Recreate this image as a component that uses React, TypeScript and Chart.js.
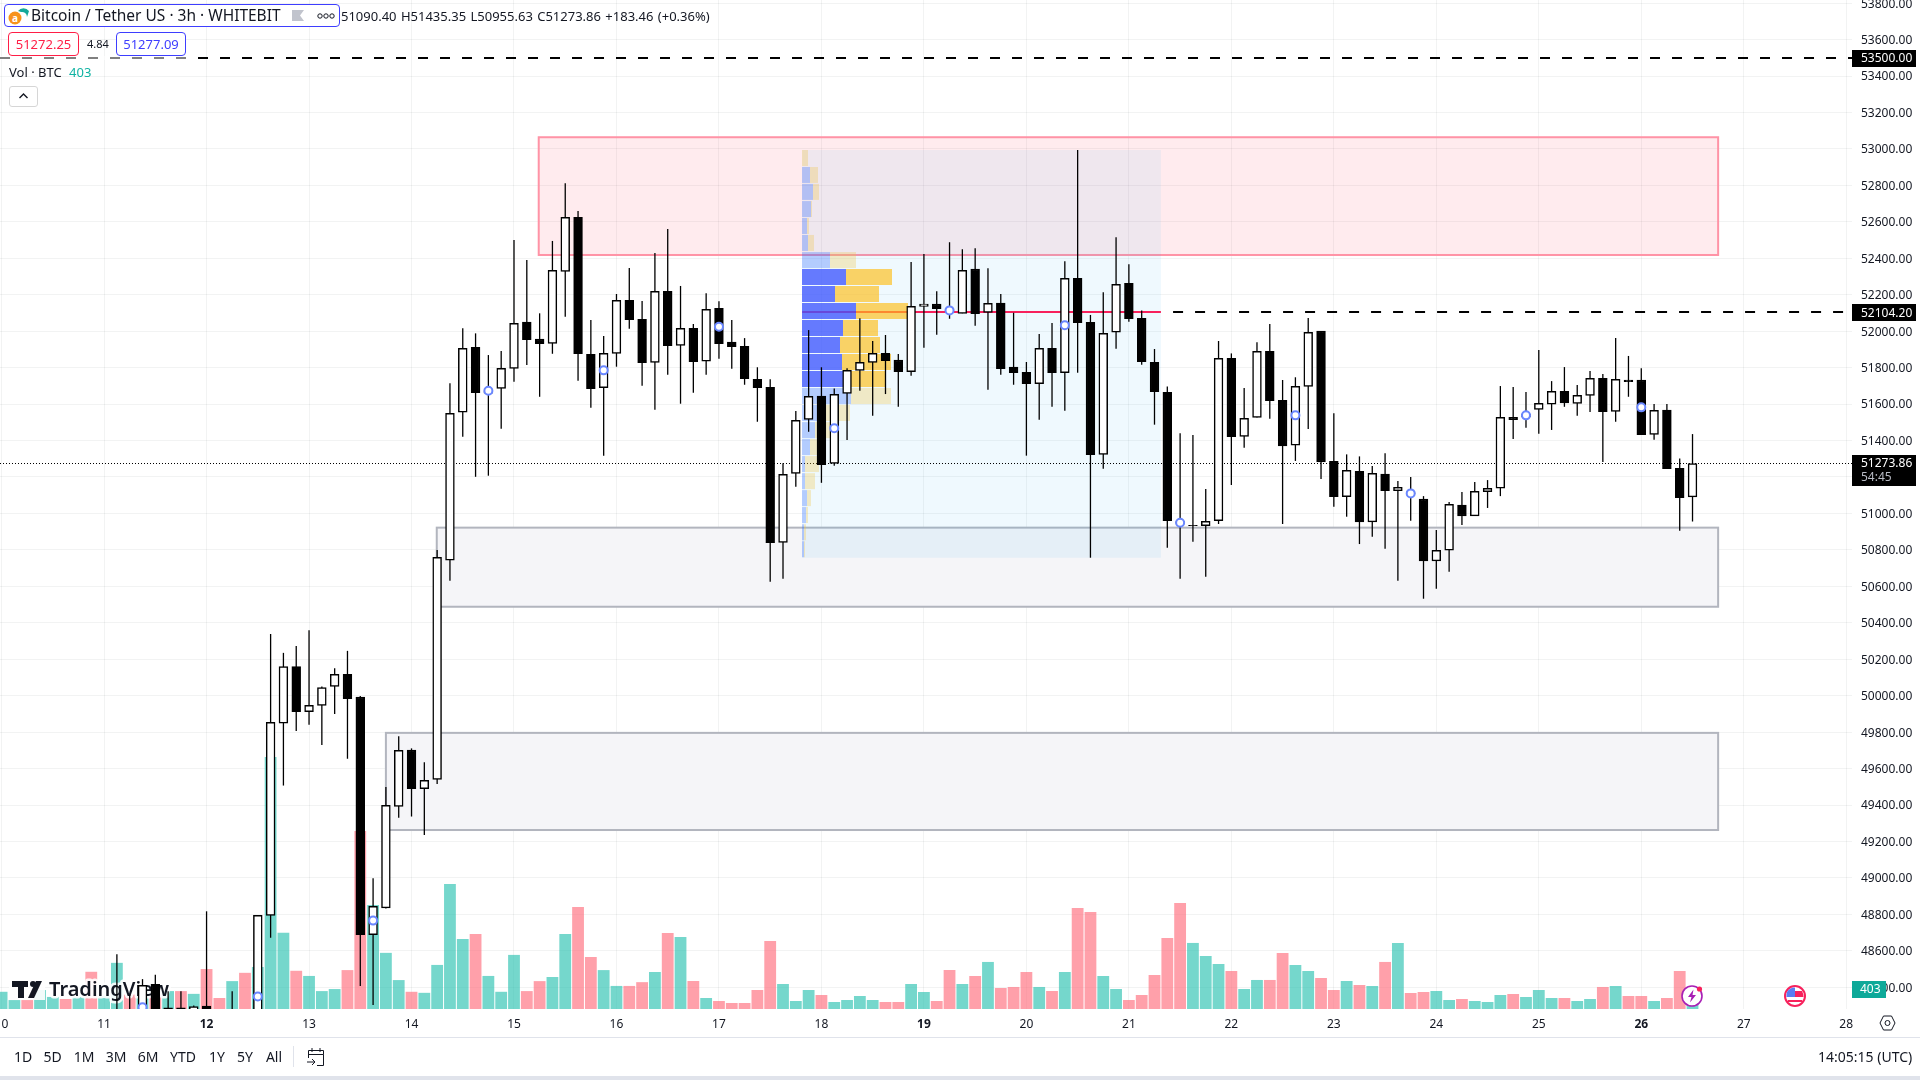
import { useEffect, useRef } from "react"
import { Chart, registerables } from "chart.js"

Chart.register(...registerables)

// 3h candles, one bar per array slot. Bars before index 9 sit below the visible price range.
const opens = [null, null, null, null, null, null, null, null, null,
  48180, 48230, 48180, 48417, 48150, 48288, 48180, 48297, 48150, 48150, 48150, 48200,
  48795, 49849, 50160, 49913, 49947, 50051, 50117, 49993, 48689, 48836, 49392, 49702, 49490, 49541, 50743, 51555,
  51911, 51660, 51686, 51796, 52050, 51957, 51933, 52328, 52625, 51873, 51690, 51878, 52169, 52065, 51829, 52219,
  51922, 52016, 51835, 52125, 51940, 51917, 51736, 51692, 50841, 51220, 51516, 51644, 51275, 51659, 51785, 51829,
  51878, 51842, 51778, 52136, 52149, 52120, 52098, 52341, 52103, 52154, 51803, 51774, 51712, 51906, 51772, 52290,
  52049, 51324, 51994, 52263, 52071, 51829, 51664, 50955, 50935, 50933, 50960, 51851, 51423, 51527, 51889, 51621,
  51374, 51697, 52001, 51286, 51092, 51231, 50954, 51216, 51125, 51115, 51079, 50740, 50798, 51046, 50987, 51119,
  51138, 51527, 51545, 51571, 51599, 51670, 51604, 51648, 51741, 51560, 51732, 51732, 51434, 51567, 51247, 51090.4]
const closes = [null, null, null, null, null, null, null, null, null,
  48230, 48180, 48411, 48150, 48288, 48180, 48294, 48200, 48200, 48200, 48220, 48795,
  49854, 50160, 49913, 49947, 50045, 50117, 49983, 48689, 48844, 49399, 49700, 49490, 49535, 50759, 51549, 51906,
  51662, 51673, 51796, 52043, 51953, 51931, 52334, 52625, 51876, 51684, 51878, 52169, 52063, 51827, 52219, 51920,
  52016, 51832, 52120, 51931, 51915, 51739, 51690, 50839, 51215, 51511, 51643, 51267, 51653, 51785, 51829, 51878,
  51838, 51778, 52136, 52149, 52123, 52105, 52334, 52096, 52153, 51794, 51772, 51712, 51906, 51772, 52290, 52046,
  51322, 51988, 52257, 52068, 51832, 51668, 50960, 50945, 50933, 50957, 51851, 51421, 51522, 51889, 51618, 51371,
  51697, 51994, 51282, 51092, 51236, 50954, 51220, 51125, 51143, 51105, 50740, 50798, 51050, 50986, 51121, 51138,
  51527, 51514, 51530, 51604, 51670, 51607, 51648, 51741, 51558, 51736, 51723, 51432, 51566, 51245, 51086, 51273.86]
const highs = [null, null, null, null, null, null, null, null, null,
  48582, 48357, 48445, 48469, 48379, 48379, 48300, 48817, 48230, 48379, 48250, 48795,
  50338, 50235, 50272, 50359, 50051, 50151, 50246, 49998, 48998, 49499, 49777, 49711, 49635, 50799, 51714, 52016,
  51988, 51869, 51891, 52500, 52390, 52098, 52495, 52811, 52659, 52061, 51973, 52204, 52347, 52165, 52429, 52561,
  52248, 52039, 52208, 52164, 52061, 51962, 51802, 51736, 51275, 51562, 52006, 51802, 51686, 51796, 52071, 51946,
  51979, 51875, 52379, 52423, 52219, 52488, 52449, 52455, 52345, 52204, 52101, 51831, 51984, 52045, 52383, 52994,
  52089, 52213, 52515, 52367, 52114, 51902, 51697, 51440, 51430, 51134, 51946, 51878, 51688, 51939, 52039, 51732,
  51747, 52072, 52001, 51549, 51324, 51313, 51260, 51330, 51178, 51200, 51095, 50909, 51063, 51117, 51172, 51183,
  51699, 51694, 51666, 51897, 51726, 51803, 51705, 51781, 51765, 51962, 51864, 51796, 51600, 51600, 51302, 51435.35]
const lows = [null, null, null, null, null, null, null, null, null,
  48050, 48100, 48120, 48100, 48080, 48120, 48100, 48100, 48050, 48100, 48090, 48150,
  48672, 49507, 49806, 49840, 49730, 49900, 49654, 48407, 48303, 48832, 49331, 49337, 49236, 49516, 50631, 51421,
  51201, 51207, 51465, 51723, 51814, 51640, 51876, 52079, 51728, 51580, 51317, 51805, 52013, 51701, 51569, 51761,
  51602, 51662, 51761, 51849, 51794, 51706, 51503, 50625, 50642, 51147, 51448, 51168, 51262, 51403, 51673, 51536,
  51655, 51585, 51756, 51909, 51981, 52068, 52098, 52030, 51679, 51761, 51706, 51317, 51514, 51585, 51564, 51772,
  50757, 51245, 51904, 52052, 51816, 51487, 50812, 50642, 50845, 50653, 50942, 51156, 51360, 51527, 51520, 50942,
  51288, 51463, 51189, 51037, 50982, 50832, 50872, 50806, 50631, 50960, 50532, 50587, 50680, 50936, 50987, 51030,
  51095, 51408, 51470, 51437, 51458, 51585, 51536, 51556, 51282, 51503, 51640, 51432, 51404, 51245, 50905, 50955.63]

const volumes = [347, 180, 180, 382, 243, 201, 243, 750, 257, 930, 291, 430, 291, 361, 361, 305, 805, 222, 562, 729, 847,
  5080, 1534, 770, 666, 361, 402, 784, 3588, 2096, 1131, 583, 347, 326, 888, 2519, 1409,
  1513, 666, 347, 1090, 361, 562, 645, 1513, 2054, 1048, 784, 465, 465, 541, 746, 1532,
  1452, 564, 222, 161, 121, 121, 383, 1371, 504, 161, 383, 282, 141, 181, 262, 181,
  141, 141, 504, 343, 161, 786, 504, 665, 948, 423, 444, 746, 444, 363, 746, 2036,
  1956, 665, 403, 181, 282, 685, 1431, 2137, 1331, 1068, 907, 766, 403, 585, 585, 1129,
  887, 766, 625, 383, 564, 484, 464, 948, 1331, 323, 343, 363, 181, 202, 161, 141,
  282, 302, 242, 383, 222, 222, 161, 202, 444, 464, 262, 262, 161, 222, 766, 403]
const volumeUp = [1, 1, 0, 1, 1, 0, 1, 0, 1, 1, 0, 1, 0, 1, 0, 1, 0, 0, 1, 0, 1,
  1, 1, 0, 1, 1, 1, 0, 0, 1, 1, 1, 0, 1, 1, 1, 1,
  0, 1, 1, 1, 0, 0, 1, 1, 0, 0, 1, 1, 0, 0, 1, 0,
  1, 0, 1, 0, 0, 0, 0, 0, 1, 1, 1, 0, 1, 1, 1, 1,
  0, 0, 1, 1, 0, 0, 1, 0, 1, 0, 0, 0, 1, 0, 1, 0,
  0, 1, 1, 0, 0, 0, 0, 0, 1, 1, 1, 0, 1, 1, 0, 0,
  1, 1, 0, 0, 1, 0, 1, 0, 1, 0, 0, 1, 1, 0, 1, 1,
  1, 0, 1, 1, 1, 0, 1, 1, 0, 1, 0, 0, 1, 0, 0, 1]

// blue circles sitting on every ninth candle
const markerBars = [11, 20, 29, 38, 47, 56, 65, 74, 83, 92, 101, 110, 119, 128]
const markerPrices = [48290, 48350, 48766, 51673, 51785, 52024, 51467, 52114, 52032, 50949, 51538, 51110, 51538, 51582]

// volume profile rows
const profilePrices = [52950, 52857, 52764, 52670, 52577, 52484, 52390, 52297, 52204, 52111, 52017, 51924,
  51831, 51737, 51644, 51551, 51457, 51364, 51271, 51177, 51084, 50991, 50897, 50804]
const profileDown = [0, 8, 11, 9, 5, 6, 28, 44, 33, 54, 41, 38, 40, 41, 49, 23, 13, 8, 3, 3, 5, 4, 2, 2]
const profileUp = [6, 8, 6, 1, 2, 6, 26, 46, 44, 52, 35, 40, 49, 43, 40, 25, 18, 10, 14, 10, 4, 2, 2, 1]
const profileValueArea = [7, 8, 9, 10, 11, 12, 13]

const dayBars = [0, 8, 16, 24, 32, 40, 48, 56, 64, 72, 80, 88, 96, 104, 112, 120, 128, 136, 144]
const dayLabels = ["10", "11", "12", "13", "14", "15", "16", "17", "18", "19", "20", "21", "22", "23", "24", "25", "26", "27", "28"]
const boldDays = ["12", "19", "26"]
const priceTicks = [48400, 48600, 48800, 49000, 49200, 49400, 49600, 49800, 50000, 50200, 50400, 50600, 50800, 51000,
  51200, 51400, 51600, 51800, 52000, 52200, 52400, 52600, 52800, 53000, 53200, 53400, 53600, 53800]

const lastPrice = 51273.86
const pocPrice = 52104.2
const targetPrice = 53500
const lastVolume = 403
const countdown = "54:45"

const ranges = ["1D", "5D", "1M", "3M", "6M", "YTD", "1Y", "5Y", "All"]
const rangeCenters = [23, 52.6, 84, 116, 148, 183, 217, 245, 274]

const FONT = '"Noto Sans", sans-serif'
const INK = "#131722"

const chartPlugin = {
  id: "tvOverlay",
  beforeDatasetsDraw(chart: any) {
    const { ctx, chartArea, scales } = chart
    const x = scales.x
    const y = scales.y
    ctx.save()
    ctx.beginPath()
    ctx.rect(chartArea.left, chartArea.top, chartArea.width, chartArea.height)
    ctx.clip()

    const zone = (from: number, to: number, top: number, bottom: number, fill: string, stroke: string) => {
      const l = x.getPixelForValue(from)
      const r = x.getPixelForValue(to)
      const t = y.getPixelForValue(top)
      const b = y.getPixelForValue(bottom)
      ctx.fillStyle = fill
      ctx.fillRect(l, t, r - l, b - t)
      if (stroke) {
        ctx.strokeStyle = stroke
        ctx.lineWidth = 2
        ctx.strokeRect(l, t, r - l, b - t)
      }
    }
    zone(41.93, 134, 53064, 52418, "rgba(255,0,40,0.08)", "#ff93a6")
    zone(33.97, 134, 50922, 50488, "#f5f5f8", "#b2b5be")
    zone(30, 134, 49796, 49263, "#f5f5f8", "#b2b5be")
    zone(62.5, 90.5, 52994, 50757, "rgba(33,170,243,0.07)", "")

    const line = (from: number, to: number, price: number, color: string, width: number, dash: number[]) => {
      const py = Math.round(y.getPixelForValue(price))
      ctx.strokeStyle = color
      ctx.lineWidth = width
      ctx.setLineDash(dash)
      ctx.beginPath()
      ctx.moveTo(x.getPixelForValue(from), py)
      ctx.lineTo(x.getPixelForValue(to), py)
      ctx.stroke()
      ctx.setLineDash([])
    }
    line(62.5, 90.5, pocPrice, "#f7215c", 2, [])
    line(91.45, 144, pocPrice, "#000", 2, [10, 12])
    line(-0.125, 144.45, targetPrice, "#000", 2, [10, 12])
    ctx.restore()

    ctx.save()
    ctx.strokeStyle = "#000"
    ctx.lineWidth = 1
    ctx.setLineDash([1, 2])
    const lastY = Math.floor(y.getPixelForValue(lastPrice)) + 0.5
    ctx.beginPath()
    ctx.moveTo(chartArea.left, lastY)
    ctx.lineTo(chartArea.right, lastY)
    ctx.stroke()
    ctx.restore()
  },
  beforeDatasetDraw(chart: any, args: any) {
    // watermark goes above the volume bars and under the candles
    if (args.index !== 2) return
    const { ctx } = chart
    ctx.save()
    ctx.font = `600 20px ${FONT}`
    ctx.textBaseline = "alphabetic"
    ctx.lineJoin = "round"
    ctx.strokeStyle = "rgba(255,255,255,0.9)"
    ctx.lineWidth = 5
    ctx.strokeText("TradingView", 49, 996)
    ctx.fillStyle = "rgba(255,255,255,0.9)"
    ctx.fillRect(9, 978, 36, 22)
    ctx.fillStyle = INK
    ctx.fillText("TradingView", 49, 996)
    ctx.fillRect(12, 981, 16, 6)
    ctx.fillRect(18, 981, 6, 17)
    ctx.beginPath()
    ctx.arc(33, 984, 3, 0, Math.PI * 2)
    ctx.fill()
    ctx.beginPath()
    ctx.moveTo(36, 981)
    ctx.lineTo(42, 981)
    ctx.lineTo(34, 998)
    ctx.lineTo(28, 998)
    ctx.closePath()
    ctx.fill()
    ctx.restore()
  },
  afterDraw(chart: any) {
    const { ctx, scales, chartArea } = chart
    const y = scales.y
    const yVol = scales.yVol
    const left = chartArea.right
    ctx.save()
    ctx.textBaseline = "middle"
    ctx.textAlign = "left"
    ctx.font = `12px ${FONT}`
    const tag = (price: number, text: string) => {
      const py = y.getPixelForValue(price)
      ctx.fillStyle = "#000"
      ctx.fillRect(left, Math.round(py) - 8, 64, 17)
      ctx.fillStyle = "#fff"
      ctx.fillText(text, 1861, py + 1)
    }
    tag(targetPrice, targetPrice.toFixed(2))
    tag(pocPrice, pocPrice.toFixed(2))

    const lastY = y.getPixelForValue(lastPrice)
    ctx.fillStyle = "#000"
    ctx.fillRect(left, Math.floor(lastY) - 8, 64, 31)
    ctx.fillStyle = "#fff"
    ctx.fillText(lastPrice.toFixed(2), 1861, lastY + 0.5)
    ctx.fillStyle = "#b8bbc4"
    ctx.fillText(countdown, 1861, lastY + 14.5)

    const volY = yVol.getPixelForValue(lastVolume)
    ctx.fillStyle = "#0ea999"
    ctx.fillRect(left, Math.round(volY) - 8, 34, 17)
    ctx.fillStyle = "#fff"
    ctx.fillText(String(lastVolume), 1860, volY + 1)
    ctx.restore()
  },
}

const bars = opens.map((_, i) => i).filter((i) => opens[i] !== null)

// scales must not reserve room for labels that hang over the plot edges
const noPadding = (scale: any) => {
  scale.paddingLeft = 0
  scale.paddingRight = 0
  scale.paddingTop = 0
  scale.paddingBottom = 0
}

function Abs({ x, y, style, children }: any) {
  return (
    <div style={{ position: "absolute", left: x, top: y, whiteSpace: "nowrap", fontFamily: FONT, color: INK, ...style }}>
      {children}
    </div>
  )
}

function Header() {
  return (
    <>
      <div style={{ position: "absolute", left: 4, top: 4, width: 336, height: 23, boxSizing: "border-box", border: "1px solid #3e3eff", borderRadius: 4, background: "#fff" }} />
      <svg style={{ position: "absolute", left: 8, top: 6 }} width="22" height="20">
        <path d="M10 5 A7 7 0 0 1 21 5 L19 11 A5 5 0 0 0 13 6 Z" fill="#14a89a" />
        <circle cx="7" cy="12" r="6.5" fill="#f7931a" />
        <text x="7" y="15.5" fontSize="10" fontWeight="700" textAnchor="middle" fill="#fff" fontFamily={FONT}>a</text>
      </svg>
      <Abs x={31} y={4} style={{ fontSize: 15.5, lineHeight: "23px" }}>Bitcoin / Tether US · 3h · WHITEBIT</Abs>
      <svg style={{ position: "absolute", left: 292, top: 9 }} width="13" height="13">
        <path d="M0 1 H12 L8 6.5 L12 12 H0 Z" fill="#c1c4cd" />
      </svg>
      <svg style={{ position: "absolute", left: 317, top: 12 }} width="18" height="8">
        <circle cx="3" cy="4" r="2.2" fill="none" stroke={INK} />
        <circle cx="9" cy="4" r="2.2" fill="none" stroke={INK} />
        <circle cx="15" cy="4" r="2.2" fill="none" stroke={INK} />
      </svg>
      <Abs x={341} y={7} style={{ fontSize: 13, lineHeight: "18px", wordSpacing: 1 }}>
        51090.40 H51435.35 L50955.63 C51273.86 +183.46 (+0.36%)
      </Abs>
      <div style={{ position: "absolute", left: 0, top: 56, width: 186, height: 4, background: "rgba(255,255,255,0.5)" }} />
      <Abs x={8} y={32} style={{ width: 71, height: 24, boxSizing: "border-box", border: "1px solid #ff1e46", borderRadius: 4, background: "#fff", color: "#ff1e46", fontSize: 13, lineHeight: "22px", textAlign: "center" }}>51272.25</Abs>
      <Abs x={87} y={35} style={{ fontSize: 11, lineHeight: "18px" }}>4.84</Abs>
      <Abs x={116} y={32} style={{ width: 70, height: 24, boxSizing: "border-box", border: "1px solid #3e3eff", borderRadius: 4, background: "#fff", color: "#3e3eff", fontSize: 13, lineHeight: "22px", textAlign: "center" }}>51277.09</Abs>
      <Abs x={9} y={63} style={{ fontSize: 13, lineHeight: "18px" }}>
        Vol · BTC <span style={{ color: "#10b3a3", marginLeft: 4 }}>403</span>
      </Abs>
      <div style={{ position: "absolute", left: 9, top: 86, width: 29, height: 21, boxSizing: "border-box", border: "1px solid #d6d6d6", borderRadius: 3, background: "#fff" }} />
      <svg style={{ position: "absolute", left: 18, top: 92 }} width="11" height="8">
        <path d="M1.5 6 L5.5 2 L9.5 6" fill="none" stroke={INK} strokeWidth="1.4" />
      </svg>
    </>
  )
}

function Footer() {
  return (
    <>
      <div style={{ position: "absolute", left: 0, top: 1037, width: 1920, height: 1, background: "#e0e3eb" }} />
      {ranges.map((r, i) => (
        <Abs key={r} x={rangeCenters[i] - 20} y={1047} style={{ width: 40, textAlign: "center", fontSize: 14, lineHeight: "20px" }}>{r}</Abs>
      ))}
      <div style={{ position: "absolute", left: 293, top: 1046, width: 1, height: 21, background: "#e0e3eb" }} />
      <svg style={{ position: "absolute", left: 306, top: 1047 }} width="20" height="20" fill="none" stroke={INK}>
        <path d="M2.5 7.5 H17.5 V3.5 H2.5 V11 M6 1 V5 M14 1 V5 M17.5 7.5 V18.5 H11" />
        <path d="M1 15 H9 M6 12 L9 15 L6 18" />
      </svg>
      <Abs x={1818} y={1047} style={{ fontSize: 14, lineHeight: "20px" }}>14:05:15 (UTC)</Abs>
      <div style={{ position: "absolute", left: 0, top: 1076, width: 1920, height: 4, background: "#e0e3eb" }} />
      <svg style={{ position: "absolute", left: 1879, top: 1014 }} width="17" height="18" fill="none" stroke={INK}>
        <path d="M4.5 2 H12.5 L16 9 L12.5 16 H4.5 L1 9 Z" />
        <circle cx="8.5" cy="9" r="2.5" />
      </svg>
      <svg style={{ position: "absolute", left: 1680, top: 984 }} width="24" height="24">
        <circle cx="12" cy="12" r="10" fill="#fff" stroke="#a81fb5" strokeWidth="1.6" />
        <path d="M13.5 5.5 L8 13 H11.5 L10 18.5 L16 11 H12.5 Z" fill="#a81fb5" />
        <circle cx="19.5" cy="5" r="2.6" fill="#f7215c" />
      </svg>
      <svg style={{ position: "absolute", left: 1783, top: 984 }} width="24" height="24">
        <circle cx="12" cy="12" r="10" fill="#fff" stroke="#f7215c" strokeWidth="2" />
        <path d="M4 8 A9 9 0 0 1 12 3.5 V13 H3.4 Q3.3 10 4 8 Z" fill="#5b7cf2" />
        <path d="M12 7 H19 Q20.6 10 20.6 13 H12 Z" fill="#f7215c" />
        <path d="M5 17 H19" stroke="#f7215c" strokeWidth="2" />
      </svg>
    </>
  )
}

export default function App() {
  const canvasRef = useRef<HTMLCanvasElement | null>(null)

  useEffect(() => {
    document.body.style.margin = "0"
    const ctx = canvasRef.current?.getContext("2d")
    if (!ctx) return

    const isUp = (i: number) => (closes[i] as number) >= (opens[i] as number)
    const inValueArea = (k: number) => profileValueArea.includes(k)

    const chart = new Chart(ctx, {
      type: "bar",
      data: {
        datasets: [
          {
            // volume profile, horizontal bars in their own hidden x axis
            indexAxis: "y",
            xAxisID: "xProfile",
            yAxisID: "y",
            order: 5,
            grouped: false,
            barThickness: 16,
            borderWidth: 0,
            inflateAmount: 0,
            data: profilePrices.flatMap((p, k) => [
              { x: [0, profileDown[k]], y: p },
              { x: [profileDown[k], profileDown[k] + profileUp[k]], y: p },
            ]),
            backgroundColor: profilePrices.flatMap((_, k) =>
              inValueArea(k)
                ? ["rgba(60,85,255,0.77)", "rgba(255,190,25,0.66)"]
                : ["rgba(41,98,255,0.3)", "rgba(240,195,70,0.3)"],
            ),
          },
          {
            xAxisID: "x",
            yAxisID: "yVol",
            order: 4,
            grouped: false,
            barThickness: 11.8,
            borderWidth: 0,
            inflateAmount: 0,
            data: volumes.map((v, i) => ({ x: i, y: v })),
            backgroundColor: volumeUp.map((u) => (u ? "rgba(43,194,177,0.65)" : "rgba(255,109,124,0.65)")),
          },
          {
            // wicks
            xAxisID: "x",
            yAxisID: "y",
            order: 3,
            grouped: false,
            barThickness: 1.3,
            borderWidth: 0,
            inflateAmount: 0,
            backgroundColor: "#000",
            data: bars.map((i) => ({ x: i, y: [lows[i], highs[i]] })),
          },
          {
            // bodies
            xAxisID: "x",
            yAxisID: "y",
            order: 2,
            grouped: false,
            barThickness: 8.8,
            borderWidth: 1.5,
            borderSkipped: false,
            borderColor: "#000",
            data: bars.map((i) => ({ x: i, y: [opens[i], closes[i]] })),
            backgroundColor: bars.map((i) => (isUp(i) ? "#fff" : "#000")),
          },
          {
            type: "scatter",
            xAxisID: "x",
            yAxisID: "y",
            order: 1,
            data: markerBars.map((b, i) => ({ x: b, y: markerPrices[i] })),
            pointStyle: "circle",
            pointRadius: 4,
            pointBorderWidth: 2,
            pointBorderColor: "#6a87ff",
            pointBackgroundColor: "#fff",
          },
        ] as any,
      },
      options: {
        responsive: false,
        animation: false,
        layout: { padding: 0, autoPadding: false },
        plugins: { legend: { display: false }, tooltip: { enabled: false }, title: { display: false } },
        events: [],
        scales: {
          x: {
            type: "linear",
            position: "bottom",
            offset: false,
            min: -0.125,
            max: 144.45,
            afterBuildTicks: (scale: any) => {
              scale.ticks = dayBars.map((value) => ({ value }))
            },
            afterFit: (scale: any) => {
              scale.height = 71
              noPadding(scale)
            },
            grid: { color: "rgba(42,46,57,0.06)", drawTicks: false, offset: false },
            border: { display: false },
            ticks: {
              autoSkip: false,
              maxRotation: 0,
              padding: 8,
              color: INK,
              font: (c: any) => ({
                family: FONT,
                size: 12,
                weight: boldDays.includes(dayLabels[dayBars.indexOf(c.tick?.value)]) ? "bold" : "normal",
              }),
              callback: (value: any) => dayLabels[dayBars.indexOf(Number(value))],
            },
          },
          y: {
            type: "linear",
            position: "right",
            offset: false,
            min: 48281,
            max: 53817,
            afterBuildTicks: (scale: any) => {
              scale.ticks = priceTicks.map((value) => ({ value }))
            },
            afterFit: (scale: any) => {
              scale.width = 68
              noPadding(scale)
            },
            grid: { color: "rgba(42,46,57,0.06)", drawTicks: false, offset: false },
            border: { display: false },
            ticks: {
              autoSkip: false,
              padding: 9,
              labelOffset: 1,
              color: INK,
              font: { family: FONT, size: 12 },
              callback: (value: any) => Number(value).toFixed(2),
            },
          },
          yVol: { type: "linear", axis: "y", display: false, offset: false, min: 0, max: 20331 },
          xProfile: { type: "linear", axis: "x", display: false, offset: false, min: -802, max: 1050 },
        } as any,
      },
      plugins: [chartPlugin],
    })

    return () => chart.destroy()
  }, [])

  return (
    <div style={{ position: "fixed", left: 0, top: 0, width: 1920, height: 1080, overflow: "hidden", background: "#fff" }}>
      <canvas ref={canvasRef} width={1920} height={1080} style={{ position: "absolute", left: 0, top: 0 }} />
      <Header />
      <Footer />
    </div>
  )
}
